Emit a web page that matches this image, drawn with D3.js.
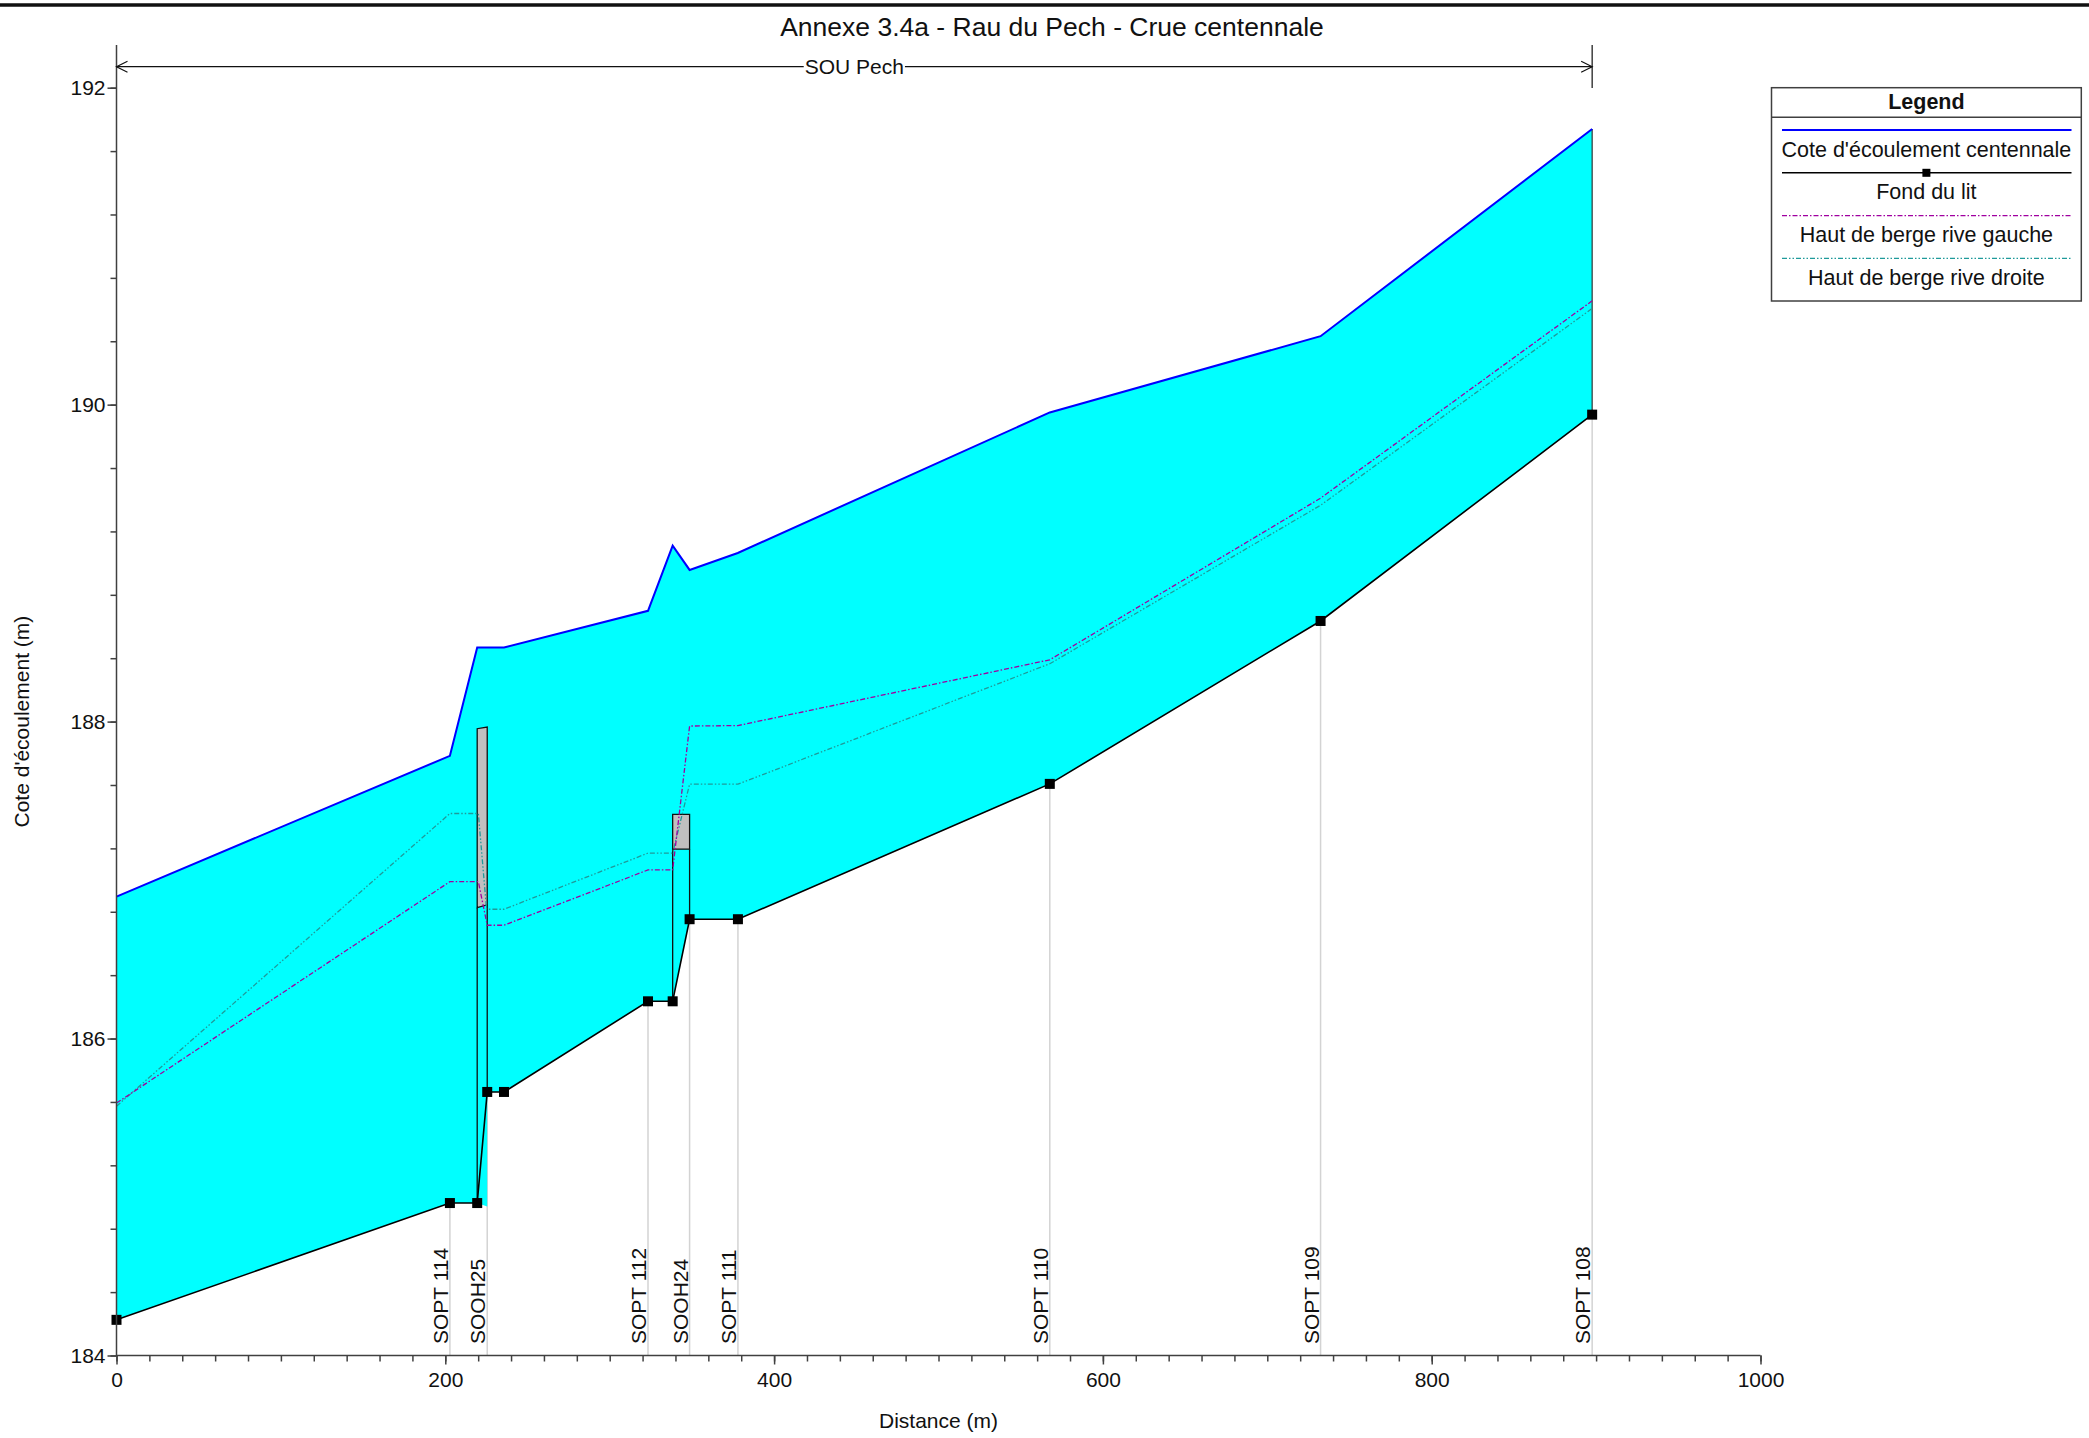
<!DOCTYPE html>
<html>
<head>
<meta charset="utf-8">
<script src="https://cdn.jsdelivr.net/npm/d3@7"></script>
<style>
  body { margin: 0; background: #fff; }
  text { font-family: "Liberation Sans", Arial, sans-serif; fill: #111; }
</style>
</head>
<body>
<svg id="chart" width="2089" height="1438"></svg>
<script>
// ------ DATA ------
const titre = "Annexe 3.4a - Rau du Pech - Crue centennale"
const bief_nom = "SOU Pech"
const bief_debut = 0
const bief_fin = 897.6

const sections = ["SOPT 114", "SOOH25", "SOPT 112", "SOOH24", "SOPT 111", "SOPT 110", "SOPT 109", "SOPT 108"]
const sections_x = [202.8, 225.5, 323.3, 348.6, 378.0, 567.7, 732.4, 897.6]

// [distance (m), cote (m)]
const fond_lit = [
  [0, 184.225], [202.8, 184.962], [219.4, 184.962], [225.5, 185.663], [235.7, 185.663],
  [323.3, 186.235], [338.3, 186.235], [348.6, 186.753], [378.0, 186.753],
  [567.7, 187.607], [732.4, 188.635], [897.6, 189.937]]

// point bas sous l'ouvrage SOOH25 (remplissage seulement)
const fond_ouvrage = [[225.5, 184.94]]

const cote_crue = [
  [0, 186.896], [202.8, 187.784], [219.4, 188.467], [235.7, 188.467],
  [323.3, 188.699], [338.3, 189.11], [348.6, 188.957], [377.9, 189.064],
  [567.7, 189.951], [732.4, 190.432], [897.6, 191.739]]

const berge_gauche = [
  [0, 185.593], [202.8, 186.99], [220.1, 186.99], [225.5, 186.715], [235.7, 186.715],
  [323.3, 187.064], [338.3, 187.064], [348.6, 187.972], [378.0, 187.975],
  [567.7, 188.39], [732.4, 189.41], [897.6, 190.655]]

const berge_droite = [
  [0, 185.573], [202.8, 187.42], [220.1, 187.42], [225.1, 186.816], [235.7, 186.816],
  [323.3, 187.17], [338.3, 187.17], [348.6, 187.605], [378.0, 187.605],
  [567.7, 188.365], [732.4, 189.365], [897.6, 190.607]]

// ouvrages : x amont, x aval, sous-face amont/aval, dessus amont/aval
const ouvrages = [
  {nom: "SOOH25", x0: 219.4, x1: 225.5, bas0: 186.826, bas1: 186.844, haut0: 187.955, haut1: 187.966},
  {nom: "SOOH24", x0: 338.3, x1: 348.6, bas0: 187.195, bas1: 187.195, haut0: 187.414, haut1: 187.414}]

const ticks_x = [0, 200, 400, 600, 800, 1000]
const ticks_y = [184, 186, 188, 190, 192]

const legende = ["Cote d'écoulement centennale", "Fond du lit", "Haut de berge rive gauche", "Haut de berge rive droite"]

// ------ STYLES ------
const col_eau = "#0000ff"
const col_fill = "#00ffff"
const col_gauche = "#a000a0"
const col_droite = "#1f9a9a"
const col_axe = "#404040"
const dash_gauche = "5,2,1.5,2"
const dash_droite = "5,2,1.5,2,1.5,2"

// ------ CHART ------
const svg = d3.select("#chart")
const x = d3.scaleLinear().domain([0, 1000]).range([116.5, 1760.5])
const y = d3.scaleLinear().domain([184, 192]).range([1355.5, 87.7])
const line = d3.line().x(d => x(d[0])).y(d => y(d[1]))

svg.append("rect").attr("width", 2089).attr("height", 1438).attr("fill", "#fff")

// top border
svg.append("line")
  .attr("x1", 0).attr("x2", 2089).attr("y1", 5).attr("y2", 5)
  .attr("stroke", "#111").attr("stroke-width", 3.5)

svg.append("text")
  .attr("x", 1052).attr("y", 36)
  .attr("text-anchor", "middle")
  .style("font-size", "26.5px")
  .text(titre)

// section lines
function fondAt(sx) {
  let pts = fond_lit.filter(p => Math.abs(p[0] - sx) < 0.01)
  return pts[pts.length - 1][1]
}
svg.append("g").selectAll("line")
  .data(sections_x)
  .join("line")
  .attr("x1", d => x(d)).attr("x2", d => x(d))
  .attr("y1", d => y(fondAt(d))).attr("y2", y(184))
  .attr("stroke", "#d3d3d3").attr("stroke-width", 1.5)

// water fill
let plancher = fond_lit.concat(fond_ouvrage)
  .sort((a, b) => a[0] - b[0] || a[1] - b[1])
let poly = cote_crue.concat(plancher.slice().reverse())
svg.append("path")
  .attr("d", line(poly) + "Z")
  .attr("fill", col_fill)

let last_w = cote_crue[cote_crue.length - 1], last_f = fond_lit[fond_lit.length - 1]
svg.append("line")
  .attr("x1", x(last_w[0])).attr("x2", x(last_f[0]))
  .attr("y1", y(last_w[1])).attr("y2", y(last_f[1]))
  .attr("stroke", "#333").attr("stroke-width", 1.2)

// bridges
const g_ouv = svg.append("g")
ouvrages.forEach(function(o) {
  g_ouv.append("path")
    .attr("d", line([[o.x0, o.bas0], [o.x0, o.haut0], [o.x1, o.haut1], [o.x1, o.bas1]]) + "Z")
    .attr("fill", "#c0c0c0").attr("stroke", "#111").attr("stroke-width", 1.3)
  let f0 = fond_lit.filter(p => Math.abs(p[0] - o.x0) < 0.01)[0][1]
  let f1 = fondAt(o.x1)
  g_ouv.append("path")
    .attr("d", line([[o.x0, o.bas0], [o.x0, f0]]) + line([[o.x1, o.bas1], [o.x1, f1]]))
    .attr("fill", "none").attr("stroke", "#111").attr("stroke-width", 1.3)
})

// banks
svg.append("path").attr("d", line(berge_droite))
  .attr("fill", "none").attr("stroke", col_droite).attr("stroke-width", 1.3)
  .attr("stroke-dasharray", dash_droite)
svg.append("path").attr("d", line(berge_gauche))
  .attr("fill", "none").attr("stroke", col_gauche).attr("stroke-width", 1.3)
  .attr("stroke-dasharray", dash_gauche)

// bed
svg.append("path").attr("d", line(fond_lit))
  .attr("fill", "none").attr("stroke", "#000").attr("stroke-width", 1.6)
svg.append("g").selectAll("rect")
  .data(fond_lit)
  .join("rect")
  .attr("x", d => x(d[0]) - 5).attr("y", d => y(d[1]) - 5)
  .attr("width", 10).attr("height", 10).attr("fill", "#000")

// water line
svg.append("path").attr("d", line(cote_crue))
  .attr("fill", "none").attr("stroke", col_eau).attr("stroke-width", 2)

// section labels
svg.append("g").selectAll("text")
  .data(sections)
  .join("text")
  .attr("transform", (d, i) => "translate(" + (x(sections_x[i]) - 2) + ",1344) rotate(-90)")
  .style("font-size", "21px")
  .text(d => d)

// ------ AXES ------
const ax_x_min = d3.axisBottom(x).tickValues(d3.range(0, 1001, 20)).tickSize(6).tickFormat("")
const ax_x = d3.axisBottom(x).tickValues(ticks_x).tickSize(9).tickPadding(8).tickSizeOuter(0).tickFormat(d3.format("d"))
const ax_y_min = d3.axisLeft(y).tickValues(d3.range(184, 192.01, 0.4)).tickSize(6).tickFormat("")
const ax_y = d3.axisLeft(y).tickValues(ticks_y).tickSize(9).tickPadding(2).tickSizeOuter(0).tickFormat(d3.format("d"))

function styleAxis(g) {
  g.select(".domain").remove()
  g.selectAll("line").attr("stroke", col_axe).attr("stroke-width", 1.5)
  g.selectAll("text").style("font-size", "21px").attr("fill", "#111")
}
svg.append("g").attr("transform", "translate(0," + y(184) + ")").call(ax_x_min).call(styleAxis)
svg.append("g").attr("transform", "translate(0," + y(184) + ")").call(ax_x).call(styleAxis)
svg.append("g").attr("transform", "translate(" + x(0) + ",0)").call(ax_y_min).call(styleAxis)
svg.append("g").attr("transform", "translate(" + x(0) + ",0)").call(ax_y).call(styleAxis)

svg.append("path")
  .attr("d", "M" + x(0) + ",45V" + y(184) + "H" + x(1000))
  .attr("fill", "none").attr("stroke", col_axe).attr("stroke-width", 1.5)

svg.append("text")
  .attr("x", (x(0) + x(1000)) / 2).attr("y", 1428)
  .attr("text-anchor", "middle").style("font-size", "21px")
  .text("Distance (m)")
svg.append("text")
  .attr("transform", "translate(28.5," + (y(184) + y(192)) / 2 + ") rotate(-90)")
  .attr("text-anchor", "middle").style("font-size", "21px")
  .text("Cote d'écoulement (m)")

// ------ REACH ARROW ------
const ya = 66.7
const g_bief = svg.append("g")
g_bief.append("line")
  .attr("x1", x(bief_debut)).attr("x2", x(bief_fin)).attr("y1", ya).attr("y2", ya)
  .attr("stroke", "#111").attr("stroke-width", 1.2)
g_bief.append("path")
  .attr("d", "M" + (x(bief_debut) + 11) + "," + (ya - 5.5) + "L" + x(bief_debut) + "," + ya + "L" + (x(bief_debut) + 11) + "," + (ya + 5.5) +
             "M" + (x(bief_fin) - 11) + "," + (ya - 5.5) + "L" + x(bief_fin) + "," + ya + "L" + (x(bief_fin) - 11) + "," + (ya + 5.5))
  .attr("fill", "none").attr("stroke", "#111").attr("stroke-width", 1.2)
g_bief.append("line")
  .attr("x1", x(bief_fin)).attr("x2", x(bief_fin)).attr("y1", 45).attr("y2", 88)
  .attr("stroke", "#111").attr("stroke-width", 1.2)
let t_bief = g_bief.append("text")
  .attr("x", (x(bief_debut) + x(bief_fin)) / 2).attr("y", ya + 7.5)
  .attr("text-anchor", "middle").style("font-size", "21px")
  .text(bief_nom)
let bb = t_bief.node().getBBox()
g_bief.insert("rect", "text")
  .attr("x", bb.x - 1).attr("y", bb.y).attr("width", bb.width + 2).attr("height", bb.height)
  .attr("fill", "#fff")

// ------ LEGEND ------
const lg = svg.append("g")
lg.append("rect")
  .attr("x", 1771.5).attr("y", 87.7).attr("width", 309.8).attr("height", 213.3)
  .attr("fill", "#fff").attr("stroke", col_axe).attr("stroke-width", 1.5)
lg.append("text")
  .attr("x", 1926.4).attr("y", 108.5).attr("text-anchor", "middle")
  .style("font-size", "21.5px").style("font-weight", "bold")
  .text("Legend")
lg.append("line")
  .attr("x1", 1771.5).attr("x2", 2081.3).attr("y1", 117.3).attr("y2", 117.3)
  .attr("stroke", col_axe).attr("stroke-width", 1.5)

const lg_styles = [
  {stroke: col_eau, width: 2, dash: null},
  {stroke: "#000", width: 1.6, dash: null},
  {stroke: col_gauche, width: 1.3, dash: dash_gauche},
  {stroke: col_droite, width: 1.3, dash: dash_droite}]

legende.forEach(function(lbl, i) {
  let yl = 130 + i * 42.8
  lg.append("line")
    .attr("x1", 1782).attr("x2", 2071.5).attr("y1", yl).attr("y2", yl)
    .attr("stroke", lg_styles[i].stroke).attr("stroke-width", lg_styles[i].width)
    .attr("stroke-dasharray", lg_styles[i].dash)
  if (i == 1) {
    lg.append("rect").attr("x", 1926.4 - 4).attr("y", yl - 4).attr("width", 8).attr("height", 8).attr("fill", "#000")
  }
  lg.append("text")
    .attr("x", 1926.4).attr("y", yl + 26.5).attr("text-anchor", "middle")
    .style("font-size", "21.5px")
    .text(lbl)
})
</script>
</body>
</html>
